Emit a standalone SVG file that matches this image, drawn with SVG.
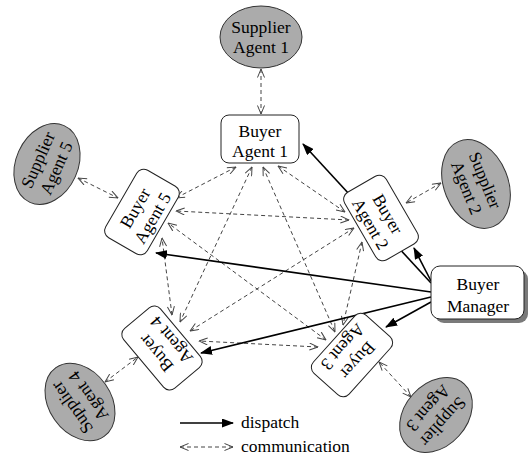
<svg xmlns="http://www.w3.org/2000/svg" width="528" height="459" viewBox="0 0 528 459" font-family="'Liberation Serif', 'Times New Roman', serif">
  <style>
    text { font-family: "Liberation Serif", "Times New Roman", serif; font-size: 17.5px; fill: #000; text-anchor: middle; }
    .box { fill: #fff; stroke: #222; stroke-width: 1; }
    .supplier { fill: #ababab; stroke: #333; stroke-width: 1; }
    .shadow { fill: #7a7a7a; }
    .comm { fill: none; stroke: #444; stroke-width: 1; stroke-dasharray: 4 3; marker-start: url(#open); marker-end: url(#open); }
    .dispatch { fill: none; stroke: #000; stroke-width: 1.6; marker-end: url(#solid); }
    .legend { text-anchor: start; }
  </style>
  <defs>
    <marker id="open" viewBox="0 0 10 8" refX="9.5" refY="4" markerWidth="10" markerHeight="8" markerUnits="userSpaceOnUse" orient="auto-start-reverse">
      <path d="M1,0.5 L9.5,4 L1,7.5" fill="none" stroke="#444" stroke-width="1"/>
    </marker>
    <marker id="solid" viewBox="0 0 12 9" refX="11" refY="4.5" markerWidth="12" markerHeight="9" markerUnits="userSpaceOnUse" orient="auto">
      <path d="M0,0 L12,4.5 L0,9 Z" fill="#000"/>
    </marker>
  </defs>

  <!-- connectors -->
  <g id="connectors">
    <!-- supplier links -->
    <line class="comm" x1="261" y1="69" x2="261" y2="114"/>
    <line class="comm" x1="441" y1="183" x2="406" y2="203"/>
    <line class="comm" x1="78" y1="178" x2="118" y2="198"/>
    <line class="comm" x1="105" y1="382" x2="138" y2="357"/>
    <line class="comm" x1="411" y1="397" x2="379" y2="362"/>
    <!-- buyer agent links -->
    <line class="comm" x1="278" y1="166" x2="345" y2="212"/>
    <line class="comm" x1="263" y1="167" x2="335" y2="332"/>
    <line class="comm" x1="252" y1="167" x2="180" y2="322"/>
    <line class="comm" x1="236" y1="167" x2="176" y2="198"/>
    <line class="comm" x1="349" y1="220" x2="176" y2="211"/>
    <line class="comm" x1="354" y1="228" x2="190" y2="331"/>
    <line class="comm" x1="362" y1="242" x2="343" y2="325"/>
    <line class="comm" x1="318" y1="347" x2="199" y2="341"/>
    <line class="comm" x1="326" y1="340" x2="168" y2="223"/>
    <line class="comm" x1="172" y1="315" x2="162" y2="238"/>
    <!-- dispatch from manager -->
    <line class="dispatch" x1="431" y1="283" x2="303" y2="144"/>
    <line class="dispatch" x1="431" y1="281" x2="414" y2="248"/>
    <line class="dispatch" x1="431" y1="292" x2="156" y2="253"/>
    <line class="dispatch" x1="431" y1="297" x2="201" y2="353"/>
    <line class="dispatch" x1="431" y1="302" x2="386" y2="327"/>
  </g>

  <!-- supplier agents -->
  <g id="supplier-agent-1" transform="translate(261,37)">
    <ellipse class="supplier" rx="41" ry="31"/>
    <text y="-4">Supplier</text><text y="16">Agent 1</text>
  </g>
  <g id="supplier-agent-2" transform="translate(476,184) rotate(68)">
    <ellipse class="supplier" rx="46" ry="32"/>
    <text y="-4">Supplier</text><text y="16">Agent 2</text>
  </g>
  <g id="supplier-agent-3" transform="translate(436,415) rotate(132)">
    <ellipse class="supplier" rx="42" ry="31"/>
    <text y="-4">Supplier</text><text y="16">Agent 3</text>
  </g>
  <g id="supplier-agent-4" transform="translate(80,402) rotate(-125)">
    <ellipse class="supplier" rx="42" ry="31"/>
    <text y="-4">Supplier</text><text y="16">Agent 4</text>
  </g>
  <g id="supplier-agent-5" transform="translate(47,164) rotate(-66)">
    <ellipse class="supplier" rx="42" ry="31"/>
    <text y="-4">Supplier</text><text y="16">Agent 5</text>
  </g>

  <!-- buyer agents -->
  <g id="buyer-agent-1" transform="translate(260,139)">
    <rect class="box" x="-39" y="-24" width="78" height="48" rx="8"/>
    <text y="-2">Buyer</text><text y="18">Agent 1</text>
  </g>
  <g id="buyer-agent-2" transform="translate(381,218) rotate(60)">
    <rect class="box" x="-39" y="-24" width="78" height="48" rx="8"/>
    <text y="-2">Buyer</text><text y="18">Agent 2</text>
  </g>
  <g id="buyer-agent-3" transform="translate(352,355) rotate(132)">
    <rect class="box" x="-39" y="-24" width="78" height="48" rx="8"/>
    <text y="-2">Buyer</text><text y="18">Agent 3</text>
  </g>
  <g id="buyer-agent-4" transform="translate(162,348) rotate(-130)">
    <rect class="box" x="-39" y="-24" width="78" height="48" rx="8"/>
    <text y="-2">Buyer</text><text y="18">Agent 4</text>
  </g>
  <g id="buyer-agent-5" transform="translate(142,212) rotate(-60)">
    <rect class="box" x="-39" y="-24" width="78" height="48" rx="8"/>
    <text y="-2">Buyer</text><text y="18">Agent 5</text>
  </g>

  <!-- buyer manager with drop shadow -->
  <g id="buyer-manager">
    <rect class="shadow" x="435" y="270" width="93" height="53" rx="9"/>
    <rect class="box" x="431" y="266" width="93" height="53" rx="9"/>
    <text x="478" y="290">Buyer</text>
    <text x="478" y="312">Manager</text>
  </g>

  <!-- legend -->
  <g id="legend">
    <line class="dispatch" x1="180" y1="423" x2="233" y2="423"/>
    <text class="legend" x="241" y="428">dispatch</text>
    <line class="comm" x1="180" y1="447" x2="233" y2="447"/>
    <text class="legend" x="241" y="452">communication</text>
  </g>
</svg>
